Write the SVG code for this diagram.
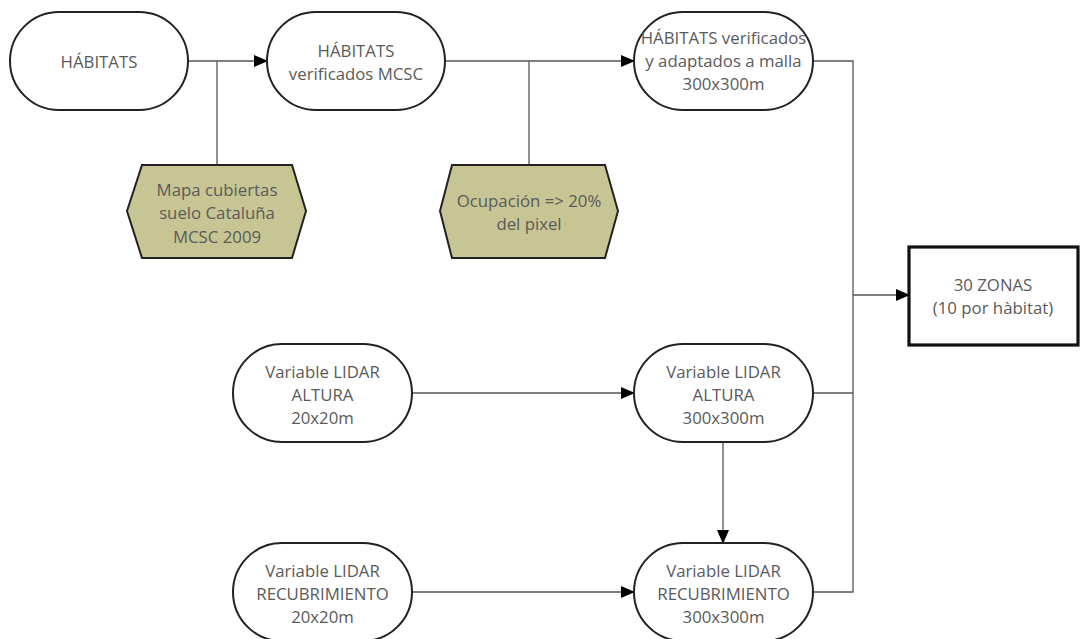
<svg xmlns="http://www.w3.org/2000/svg" width="1080" height="639" viewBox="0 0 1080 639">
<style>
.node{fill:#fff;stroke:#222;stroke-width:2}
.hex{fill:#c6c593;stroke:#222;stroke-width:2}
.box{fill:#fff;stroke:#111;stroke-width:3.2}
.t{font-family:"Open Sans","Liberation Sans",sans-serif;font-size:16.8px;fill:#5a5a5a;text-anchor:middle;dominant-baseline:central}
.c{fill:none;stroke:#555;stroke-width:1.3}
</style>
<defs>
<marker id="ah" markerWidth="14" markerHeight="12" refX="13" refY="6" orient="auto" markerUnits="userSpaceOnUse">
<path d="M0,0 L14,6 L0,12 Z" fill="#000"/>
</marker>
</defs>
<rect width="1080" height="639" fill="#fff"/>
<g id="connectors">
<line class="c" x1="188" y1="61" x2="267" y2="61" marker-end="url(#ah)"/>
<line class="c" x1="217" y1="165" x2="217" y2="61"/>
<line class="c" x1="445" y1="61" x2="634" y2="61" marker-end="url(#ah)"/>
<line class="c" x1="529" y1="165" x2="529" y2="61"/>
<polyline class="c" points="813,61 853,61 853,592 813,592"/>
<line class="c" x1="813" y1="393" x2="853" y2="393"/>
<line class="c" x1="853" y1="295" x2="909" y2="295" marker-end="url(#ah)"/>
<line class="c" x1="412" y1="393" x2="634" y2="393" marker-end="url(#ah)"/>
<line class="c" x1="412" y1="592" x2="634" y2="592" marker-end="url(#ah)"/>
<line class="c" x1="723" y1="442" x2="723" y2="543" marker-end="url(#ah)"/>
</g>
<g id="habitats">
<rect class="node" x="10" y="12" width="178" height="98" rx="49"/>
<text class="t" x="99" y="61">HÁBITATS</text>
</g>
<g id="habitats-verificados">
<rect class="node" x="267" y="12" width="178" height="98" rx="49"/>
<text class="t" x="356" y="50">HÁBITATS</text>
<text class="t" x="356" y="73">verificados MCSC</text>
</g>
<g id="habitats-malla">
<rect class="node" x="634" y="12" width="179" height="98" rx="49"/>
<text class="t" x="723.5" y="37">HÁBITATS verificados</text>
<text class="t" x="723.5" y="60">y adaptados a malla</text>
<text class="t" x="723.5" y="83">300x300m</text>
</g>
<g id="mapa-mcsc">
<polygon class="hex" points="127,211 142,165 292,165 306,211 292,258 142,258"/>
<text class="t" x="217" y="189">Mapa cubiertas</text>
<text class="t" x="217" y="212">suelo Cataluña</text>
<text class="t" x="217" y="236">MCSC 2009</text>
</g>
<g id="ocupacion">
<polygon class="hex" points="440,211 452,165 605,165 618,211 605,258 452,258"/>
<text class="t" x="529" y="200">Ocupación =&gt; 20%</text>
<text class="t" x="529" y="223">del pixel</text>
</g>
<g id="zonas">
<rect class="box" x="909" y="247" width="169" height="98"/>
<text class="t" x="993" y="284">30 ZONAS</text>
<text class="t" x="993" y="307">(10 por hàbitat)</text>
</g>
<g id="lidar-altura-20">
<rect class="node" x="233" y="344" width="179" height="98" rx="49"/>
<text class="t" x="322.5" y="371">Variable LIDAR</text>
<text class="t" x="322.5" y="394">ALTURA</text>
<text class="t" x="322.5" y="417">20x20m</text>
</g>
<g id="lidar-altura-300">
<rect class="node" x="634" y="344" width="179" height="98" rx="49"/>
<text class="t" x="723.5" y="371">Variable LIDAR</text>
<text class="t" x="723.5" y="394">ALTURA</text>
<text class="t" x="723.5" y="417">300x300m</text>
</g>
<g id="lidar-recub-20">
<rect class="node" x="233" y="543" width="179" height="98" rx="49"/>
<text class="t" x="322.5" y="570">Variable LIDAR</text>
<text class="t" x="322.5" y="593">RECUBRIMIENTO</text>
<text class="t" x="322.5" y="616">20x20m</text>
</g>
<g id="lidar-recub-300">
<rect class="node" x="634" y="543" width="179" height="98" rx="49"/>
<text class="t" x="723.5" y="570">Variable LIDAR</text>
<text class="t" x="723.5" y="593">RECUBRIMIENTO</text>
<text class="t" x="723.5" y="616">300x300m</text>
</g>
</svg>
